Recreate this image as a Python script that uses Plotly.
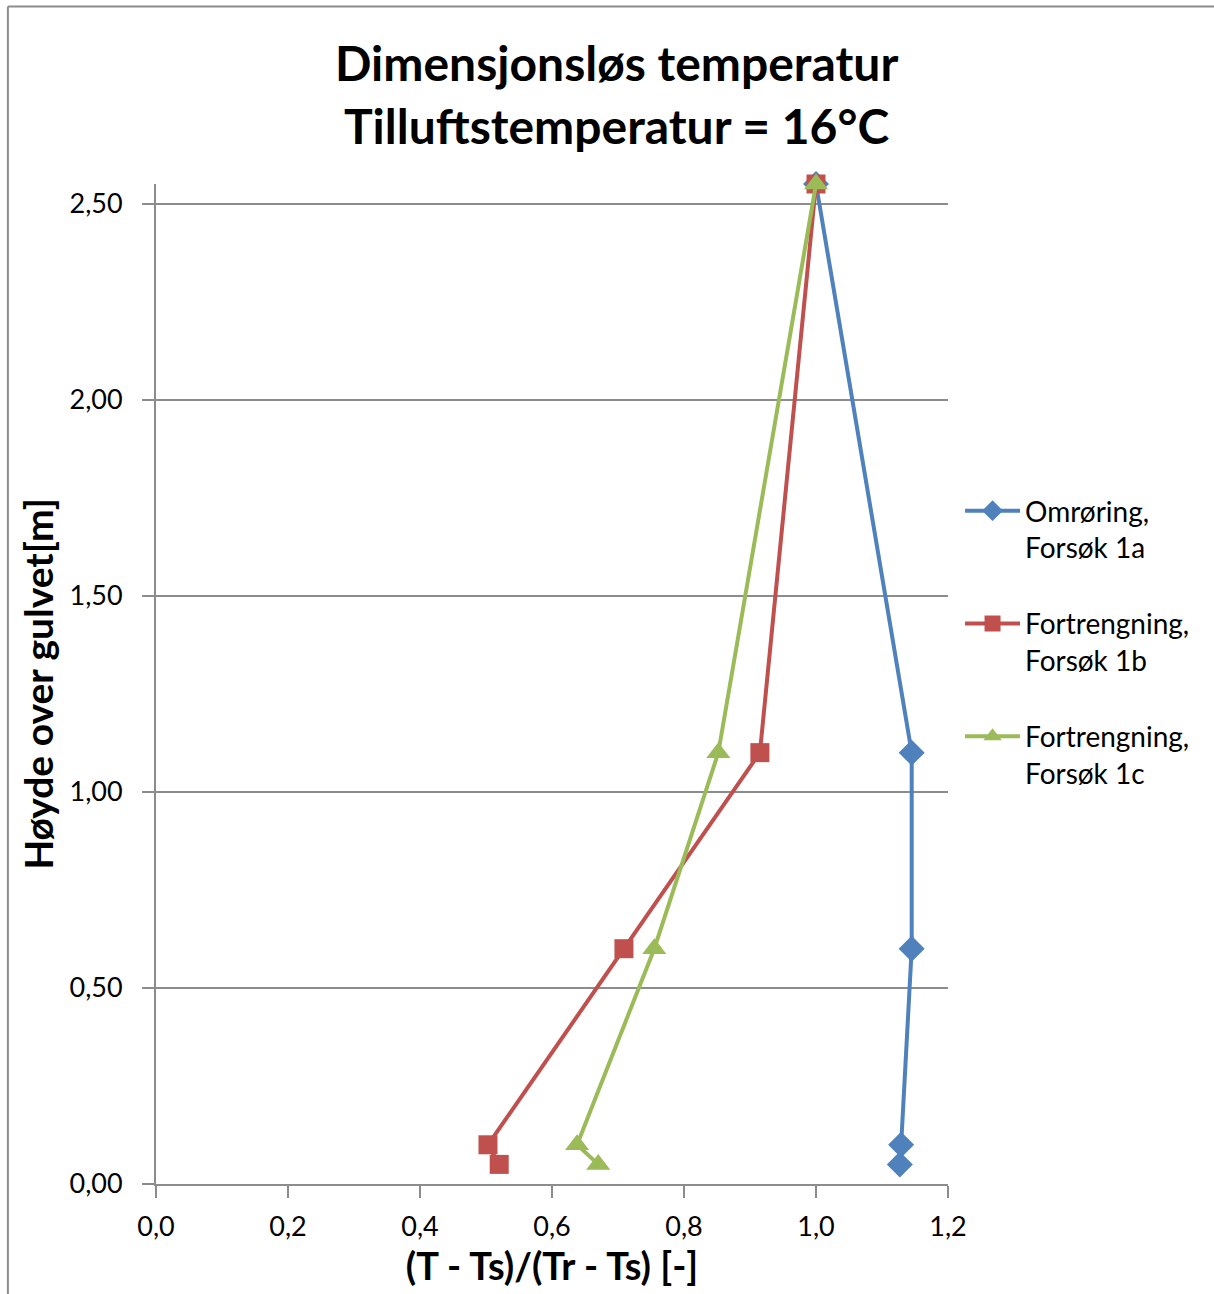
import plotly.graph_objects as go

# Høyde over gulvet [m]
heights = [0.05, 0.10, 0.60, 1.10, 2.55]

# Dimensjonsløs temperatur (T - Ts)/(Tr - Ts)
omroring_1a = [1.127, 1.129, 1.145, 1.145, 1.000]
fortrengning_1b = [0.520, 0.503, 0.709, 0.915, 1.000]
fortrengning_1c = [0.670, 0.638, 0.755, 0.852, 1.000]

series_names = ["Omrøring,<br>Forsøk 1a", "Fortrengning,<br>Forsøk 1b", "Fortrengning,<br>Forsøk 1c"]
series_colors = ["#4F81BD", "#C0504D", "#9BBB59"]
series_symbols = ["diamond", "square", "triangle-up"]
series_sizes = [20, 19, 21]

x_ticks = [0.0, 0.2, 0.4, 0.6, 0.8, 1.0, 1.2]
y_ticks = [0.0, 0.5, 1.0, 1.5, 2.0, 2.5]

title_lines = ["Dimensjonsløs temperatur", "Tilluftstemperatur = 16°C"]

FONT = "Lato"

fig = go.Figure()
for i, vals in enumerate([omroring_1a, fortrengning_1b, fortrengning_1c]):
    fig.add_trace(go.Scatter(
        x=vals, y=heights, mode="lines+markers", name=series_names[i],
        legendgroup=f"g{i}",
        line=dict(color=series_colors[i], width=4),
        marker=dict(symbol=series_symbols[i], size=series_sizes[i], color=series_colors[i]),
        cliponaxis=False,
    ))

grid = "#8c8c8c"
fig.update_layout(
    width=1214, height=1294,
    margin=dict(l=156, r=266, t=184, b=110),
    paper_bgcolor="white", plot_bgcolor="white",
    separators=", ",
    font=dict(family=FONT, color="black"),
    xaxis=dict(
        range=[0, 1.2], tickvals=x_ticks, tickformat=".1f",
        showgrid=False, zeroline=False,
        showline=True, linecolor=grid, linewidth=2,
        ticks="outside", ticklen=12, tickwidth=2, tickcolor=grid,
        tickfont=dict(family=FONT, size=27), ticklabelstandoff=6,
        title=dict(text="<b>(T - Ts)/(Tr - Ts) [-]</b>", font=dict(family=FONT, size=38), standoff=12),
    ),
    yaxis=dict(
        range=[0, 2.55], tickvals=y_ticks, tickformat=".2f",
        showgrid=True, gridcolor=grid, gridwidth=2, zeroline=False,
        showline=True, linecolor=grid, linewidth=2,
        ticks="outside", ticklen=12, tickwidth=2, tickcolor=grid,
        tickfont=dict(family=FONT, size=27), ticklabelstandoff=14,
        title=dict(text="<b>Høyde over gulvet[m]</b>", font=dict(family=FONT, size=39), standoff=4),
    ),
    legend=dict(
        x=1.0152, xanchor="left", y=0.698, yanchor="top",
        font=dict(family=FONT, size=28), valign="top",
        itemwidth=55, tracegroupgap=37, bgcolor="rgba(0,0,0,0)",
    ),
    showlegend=True,
)

# two-line bold chart title
for line, ypix in zip(title_lines, [62, 125]):
    fig.add_annotation(
        text=f"<b>{line}</b>", xref="paper", yref="paper",
        x=(616 - 156) / 792, y=1 + (184 - ypix) / 1000,
        xanchor="center", yanchor="middle", showarrow=False,
        font=dict(family=FONT, size=48, color="black"),
    )

# outer chart frame (left and top edges)
fig.add_shape(type="line", xref="paper", yref="paper", x0=-0.187, x1=-0.187, y0=-0.12, y1=1.1775,
              line=dict(color="#8c8c8c", width=2))
fig.add_shape(type="line", xref="paper", yref="paper", x0=-0.187, x1=1.34, y0=1.1775, y1=1.1775,
              line=dict(color="#8c8c8c", width=2))

fig.write_html("out.html")
